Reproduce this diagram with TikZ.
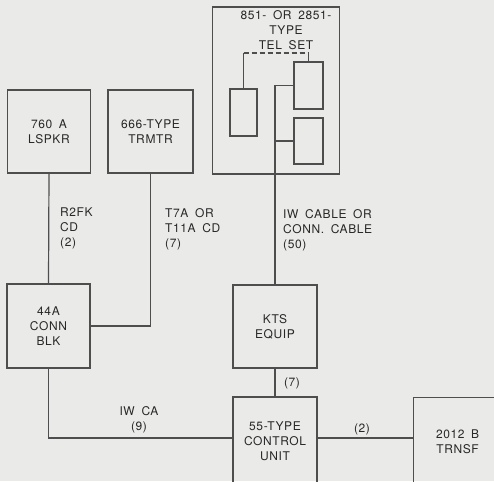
\documentclass[tikz,border=0pt]{standalone}
\usepackage{fontspec}
\setmainfont{TeX Gyre Heros}[LetterSpace=5,WordSpace=1.7]
\usetikzlibrary{positioning}
\definecolor{paper}{RGB}{234,234,232}
\definecolor{inkgray}{RGB}{78,78,78}
\definecolor{textgray}{RGB}{40,40,40}

\begin{document}
\begin{tikzpicture}[x=1pt,y=-1pt,
    box/.style={draw=inkgray, line width=1.2pt, inner sep=0pt, align=center,
      text=textgray, font=\fontsize{12}{15}\selectfont},
    wire/.style={draw=inkgray, line width=1.2pt},
    lbl/.style={inner sep=0pt, align=left, text=textgray,
      font=\fontsize{12}{15}\selectfont}]
    % paper
    \fill[paper] (0,0) rectangle (494,481);
    \useasboundingbox (0,0) rectangle (494,481);

    % top row
    \node[box, minimum width=83pt, minimum height=83pt] (spkr) at (49,131.5) {760 A\\LSPKR};
    \node[box, minimum width=85pt, minimum height=83pt] (trmtr) at (150.5,131.5) {666-TYPE\\TRMTR};

    % telephone set
    \node[box, minimum width=127pt, minimum height=167pt] (telset) at (276,90.5) {};
    \node[lbl, align=center] (telname) at (286,30.5) {851- OR 2851-\\TYPE\\TEL SET};
    \node[box, minimum width=27pt, minimum height=47pt] (lkey) at (243.5,112.5) {};
    \node[box, minimum width=29pt, minimum height=47pt] (ukey) at (308.5,85.5) {};
    \node[box, minimum width=29pt, minimum height=46pt] (dkey) at (308.5,141) {};
    \coordinate (dash) at (276,53);

    % middle row
    \node[box, minimum width=83pt, minimum height=84pt] (blk) at (48.5,326) {44A\\CONN\\BLK};
    \node[box, minimum width=84pt, minimum height=83pt] (kts) at (275,326.5) {KTS\\EQUIP};

    % bottom row
    \node[box, minimum width=84pt, minimum height=88pt] (ctrl) at (275,441) {55-TYPE\\CONTROL\\UNIT};
    \node[box, minimum width=88pt, minimum height=88pt, anchor=north west] (trnsf) at (413,397) {2012 B\\TRNSF};

    % cords
    \draw[wire] (spkr.south) -- (blk.north);
    \draw[wire] (trmtr.south) |- (blk.east);
    \draw[wire] (kts.south) -- (ctrl.north);
    \draw[wire] (blk.south) |- ([yshift=3pt]ctrl.west);
    \draw[wire] ([yshift=3pt]ctrl.east) -- ([yshift=3pt]ctrl.east -| trnsf.west);
    \draw[wire] (kts.north) -- (kts.north |- ukey.west) -- (ukey.west);
    \draw[wire] (kts.north |- dkey.west) -- (dkey.west);
    \draw[wire] (lkey.north) -- (lkey.north |- dash);
    \draw[wire, dash pattern=on 5pt off 3pt] (lkey.north |- dash) -- (ukey.north |- dash);
    \draw[wire] (ukey.north |- dash) -- (ukey.north);

    % cord labels
    \node[lbl, anchor=north west] (spkrcd) at (60,208) {R2FK\\CD\\(2)};
    \node[lbl, anchor=north west] (trmtrcd) at (165,208) {T7A OR\\T11A CD\\(7)};
    \node[lbl, anchor=north west] (telcd) at (283,209) {IW CABLE OR\\CONN. CABLE\\(50)};
    \node[lbl, align=center] (blkcd) at (139,420) {IW CA\\(9)};
    \node[lbl] (ktscd) at (292,383) {(7)};
    \node[lbl] (trnsfcd) at (362,429) {(2)};
\end{tikzpicture}
\end{document}
